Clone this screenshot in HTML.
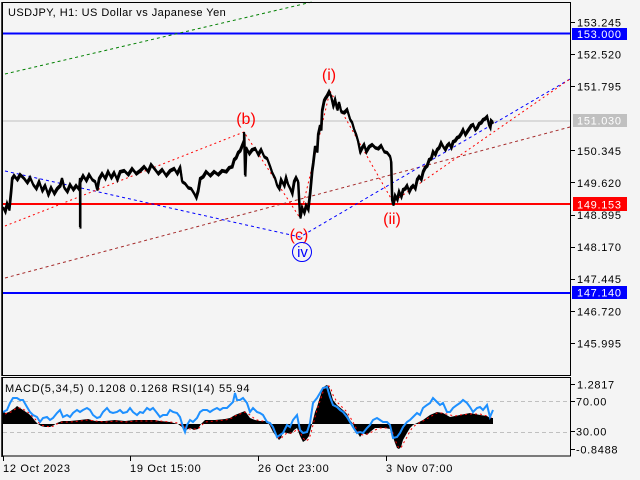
<!DOCTYPE html>
<html><head><meta charset="utf-8"><style>
html,body{margin:0;padding:0;background:#f4f4f4;}
svg{display:block;}
text{font-family:"Liberation Sans",sans-serif;}
</style></head><body>
<svg width="640" height="480" viewBox="0 0 640 480" xmlns="http://www.w3.org/2000/svg" xmlns:xlink="http://www.w3.org/1999/xlink">
<defs>
<polyline id="price" points="3,207 5,211 7,203 9,209 10,200 11,190 12,178 14,175 17,179 20,174 24,178 27,182 30,177 33,184 36,188 39,181 42,190 45,185 48,194 51,187 54,193 57,188 60,185 62,178 64,187 67,191 70,184 73,189 76,185 79,189 80,178 80,227 80,181 83,175 86,180 89,174 92,179 95,181 97,189 99,178 102,173 105,178 108,171 111,177 114,172 117,179 120,171 124,170 128,174 132,168 136,173 140,170 144,166 148,171 151,164 155,169 158,173 162,169 166,175 170,170 174,168 177,173 180,167 182,181 185,183 188,187 191,188 194,193 196,197 198,190 200,178 203,176 206,171 210,175 214,171 218,174 222,170 226,171 229,167 232,166 234,159 236,157 238,152 240,150 242,145 244,140 244,132 245,175 246,147 249,153 252,149 255,148 258,154 261,149 264,156 267,158 270,166 272,172 275,178 277,185 279,188 281,179 284,185 286,177 288,184 290,188 292,193 294,181 296,177 298,181 299,200 300,217 302,207 304,212 306,205 308,209 310,192 312,170 313,163 315,146 317,151 318,134 320,125 321,129 322,110 324,100 325,98 327,95 329,91 331,96 333,105 335,99 337,109 339,102 341,111 344,112 347,109 350,119 352,122 354,129 356,134 358,141 360,151 362,147 364,144 366,151 369,146 372,144 375,147 378,148 381,145 384,151 387,152 390,156 391,161 392,200 393,204 395,195 397,199 399,191 401,196 403,189 405,188 407,185 409,191 411,187 413,185 415,188 417,179 419,176 421,179 423,171 425,167 427,165 429,159 431,158 433,151 435,154 437,149 439,147 441,142 443,146 445,149 447,145 449,143 451,147 453,141 455,140 457,137 459,136 461,133 463,129 465,134 467,131 469,128 471,125 473,124 475,129 477,127 479,123 481,122 483,119 485,118 487,116 489,125 490,127 491,120 493,122"/>
</defs>
<rect x="0" y="0" width="640" height="480" fill="#f4f4f4"/>

<!-- horizontal levels -->
<line x1="3" y1="121" x2="570" y2="121" stroke="#c0c0c0" stroke-width="1"/>
<line x1="3" y1="33.5" x2="570" y2="33.5" stroke="#0000ff" stroke-width="2"/>
<line x1="3" y1="204" x2="570" y2="204" stroke="#ff0000" stroke-width="2"/>
<line x1="3" y1="293" x2="570" y2="293" stroke="#0000ff" stroke-width="2"/>

<!-- trend / wave lines -->
<line x1="5" y1="74" x2="312" y2="2" stroke="#008000" stroke-width="1" stroke-dasharray="3,3"/>
<line x1="5" y1="278" x2="570" y2="127" stroke="#a52a2a" stroke-width="1" stroke-dasharray="3,3"/>
<polyline points="5,171 300,237 570,79" fill="none" stroke="#0000ff" stroke-width="1" stroke-dasharray="3,3"/>
<polyline points="5,226 244,132 300,218 330,91 393,202 570,79" fill="none" stroke="#ff0000" stroke-width="1" stroke-dasharray="2,3"/>

<!-- price -->
<use xlink:href="#price" href="#price" fill="none" stroke="#000" stroke-width="2.2"/>
<use xlink:href="#price" href="#price" transform="translate(0.5,1.6)" fill="none" stroke="#000" stroke-width="2"/>

<!-- wave labels -->
<text x="246" y="124" font-size="16" fill="#ff0000" text-anchor="middle">(b)</text>
<text x="329" y="80" font-size="16" fill="#ff0000" text-anchor="middle">(i)</text>
<text x="299" y="240" font-size="16" fill="#ff0000" text-anchor="middle">(c)</text>
<text x="392" y="224" font-size="16" fill="#ff0000" text-anchor="middle">(ii)</text>
<circle cx="302" cy="252" r="9.5" fill="none" stroke="#0000ff" stroke-width="1"/>
<text x="302.5" y="257" font-size="15" fill="#0000ff" text-anchor="middle">iv</text>

<!-- title -->
<text x="8" y="16" font-size="11" letter-spacing="0.45" fill="#000">USDJPY, H1:  US Dollar vs Japanese Yen</text>

<!-- frames -->
<rect x="2.5" y="2.5" width="568" height="373" fill="none" stroke="#000" stroke-width="1"/>
<line x1="2" y1="2" x2="2" y2="376" stroke="#000" stroke-width="1.5"/>

<!-- right axis ticks & labels -->
<g stroke="#000" stroke-width="1">
<line x1="570" y1="22.5" x2="575" y2="22.5"/>
<line x1="570" y1="54.5" x2="575" y2="54.5"/>
<line x1="570" y1="86.5" x2="575" y2="86.5"/>
<line x1="570" y1="150.5" x2="575" y2="150.5"/>
<line x1="570" y1="182.5" x2="575" y2="182.5"/>
<line x1="570" y1="215.5" x2="575" y2="215.5"/>
<line x1="570" y1="247.5" x2="575" y2="247.5"/>
<line x1="570" y1="279.5" x2="575" y2="279.5"/>
<line x1="570" y1="311.5" x2="575" y2="311.5"/>
<line x1="570" y1="343.5" x2="575" y2="343.5"/>
</g>
<g font-size="11" letter-spacing="0.7" fill="#000">
<text x="577" y="26.5">153.245</text>
<text x="577" y="58.5">152.520</text>
<text x="577" y="90.5">151.795</text>
<text x="577" y="154.8">150.345</text>
<text x="577" y="186.9">149.620</text>
<text x="577" y="219">148.895</text>
<text x="577" y="251.1">148.170</text>
<text x="577" y="283.2">147.445</text>
<text x="577" y="315.4">146.720</text>
<text x="577" y="347.5">145.995</text>
</g>
<rect x="572" y="28" width="55" height="12" fill="#0000ff"/>
<text x="577" y="38" font-size="11" letter-spacing="0.7" fill="#fff">153.000</text>
<rect x="573" y="114" width="54" height="13" fill="#c0c0c0"/>
<text x="577" y="124.5" font-size="11" letter-spacing="0.7" fill="#fff">151.030</text>
<rect x="573" y="197" width="54" height="14" fill="#ff0000"/>
<text x="577" y="208.5" font-size="11" letter-spacing="0.7" fill="#fff">149.153</text>
<rect x="572" y="286" width="55" height="13" fill="#0000ff"/>
<text x="577" y="296.5" font-size="11" letter-spacing="0.7" fill="#fff">147.140</text>

<!-- indicator panel -->
<line x1="3" y1="401.5" x2="570" y2="401.5" stroke="#c0c0c0" stroke-width="1" stroke-dasharray="4,3"/>
<line x1="3" y1="432.5" x2="570" y2="432.5" stroke="#c0c0c0" stroke-width="1" stroke-dasharray="4,3"/>

<polygon fill="#000" points="3,424 3,412 6,413 9,412 12,410 15,408 17,406 20,408 23,410 26,412 29,414 32,417 35,421 38,424 41,426 45,427 50,427 54,425 57,423 62,421 70,421 80,420 88,419 95,421 105,421 115,420 125,421 135,420 145,420 155,420 160,421 170,422 178,424 182,427 186,430 190,428 194,430 198,429 201,424 205,420 215,420 225,419 230,418 235,415 240,413 245,411 250,418 255,420 260,421 267,421 270,426 273,432 276,436 279,440 281,438 283,432 287,433 291,434 294,430 297,428 300,436 303,442 306,440 309,436 311,428 313,420 315,412 317,407 320,397 323,388 325,386 327,385 329,387 331,393 333,400 337,405 343,410 347,414 350,420 353,424 355,429 357,432 360,437 363,433 367,435 370,432 375,428 380,428 385,428 390,429 393,437 395,443 397,448 399,449 401,447 403,440 407,433 410,428 413,425 417,423 423,420 430,415 437,412 443,413 450,417 455,416 460,415 470,413 480,415 487,416 490,418 493,418 493,424"/>
<polyline fill="none" stroke="#ff0000" stroke-width="1" stroke-dasharray="2,3" points="5,414 8,413 11,412 14,410 17,408 20,408 23,409 26,411 29,413 32,416 35,419 38,422 41,425 45,426 50,427 54,426 57,424 62,422 70,422 80,421 88,420 95,421 105,422 115,421 125,422 135,421 145,421 155,421 160,421 170,422 178,423 182,425 186,428 190,429 194,429 198,429 201,426 205,422 215,421 225,420 230,419 235,416 240,414 245,412 250,415 255,419 260,421 267,421 270,424 273,429 276,434 279,438 281,439 283,436 287,433 291,433 294,432 297,429 300,432 303,438 306,441 309,439 311,433 313,425 315,417 317,410 320,401 323,392 325,388 327,386 329,386 331,389 333,395 337,402 343,408 347,412 350,417 353,422 355,426 357,430 360,434 363,435 367,434 370,433 375,430 380,428 385,428 390,428 393,433 395,439 397,445 399,448 401,448 403,444 407,437 410,431 413,427 417,424 423,421 430,417 437,413 443,413 450,415 455,416 460,415 470,414 480,414 487,416 490,417 493,418"/>
<polyline fill="none" stroke="#1e90ff" stroke-width="2" points="3,412 7,410 10,403 13,398 17,398 20,400 23,400 27,407 30,412 33,415 37,417 40,422 43,418 47,417 50,420 53,418 57,413 60,410 63,417 67,415 70,417 73,413 77,410 80,412 83,410 87,408 90,410 93,415 97,418 100,417 103,412 107,408 110,412 113,413 117,412 120,410 123,413 127,412 130,408 133,412 137,415 140,412 143,413 147,408 150,410 153,408 157,413 160,417 163,415 167,415 170,410 173,412 177,413 180,417 183,427 185,432 187,425 190,420 193,422 197,418 200,412 203,410 207,410 210,412 213,410 217,408 220,410 223,408 227,408 230,405 233,402 235,393 237,400 240,400 243,398 247,403 250,412 253,408 257,412 260,413 263,415 267,422 270,423 273,427 277,437 280,435 283,433 287,425 290,427 293,420 297,415 300,430 303,433 307,432 310,423 313,403 317,398 320,393 323,388 327,387 330,397 333,405 337,407 340,410 343,412 347,417 350,422 353,427 357,433 360,432 363,433 367,428 370,425 373,420 377,418 380,420 383,422 387,422 390,425 393,438 397,437 400,433 403,427 407,422 410,420 413,417 417,413 420,415 423,408 427,405 430,403 433,398 437,402 440,405 443,403 447,412 450,412 453,408 457,405 460,403 463,400 467,403 470,407 473,412 477,408 480,407 483,410 487,405 490,417 493,410"/>

<text x="5" y="392" font-size="11" letter-spacing="0.75" fill="#000">MACD(5,34,5) 0.1208 0.1268 RSI(14) 55.94</text>

<rect x="2.5" y="377.5" width="568" height="78.5" fill="none" stroke="#000" stroke-width="1"/>
<line x1="2" y1="377" x2="2" y2="457" stroke="#000" stroke-width="1.5"/>

<g stroke="#000" stroke-width="1">
<line x1="570" y1="384.5" x2="575" y2="384.5"/>
<line x1="570" y1="401.5" x2="575" y2="401.5"/>
<line x1="570" y1="431.5" x2="575" y2="431.5"/>
<line x1="570" y1="449.5" x2="575" y2="449.5"/>
</g>
<g font-size="11" letter-spacing="0.7" fill="#000">
<text x="577" y="388.5">1.2817</text>
<text x="576" y="405.7">70.00</text>
<text x="576" y="435.7">30.00</text>
<text x="576" y="453.3">-0.8488</text>
</g>

<!-- time axis -->
<g stroke="#000" stroke-width="1">
<line x1="3.5" y1="456" x2="3.5" y2="461"/>
<line x1="130.5" y1="456" x2="130.5" y2="461"/>
<line x1="258.5" y1="456" x2="258.5" y2="461"/>
<line x1="386.5" y1="456" x2="386.5" y2="461"/>
</g>
<g font-size="11" letter-spacing="0.7" fill="#000">
<text x="3" y="472">12 Oct 2023</text>
<text x="130" y="472">19 Oct 15:00</text>
<text x="258" y="472">26 Oct 23:00</text>
<text x="386" y="472">3 Nov 07:00</text>
</g>
</svg>
</body></html>
